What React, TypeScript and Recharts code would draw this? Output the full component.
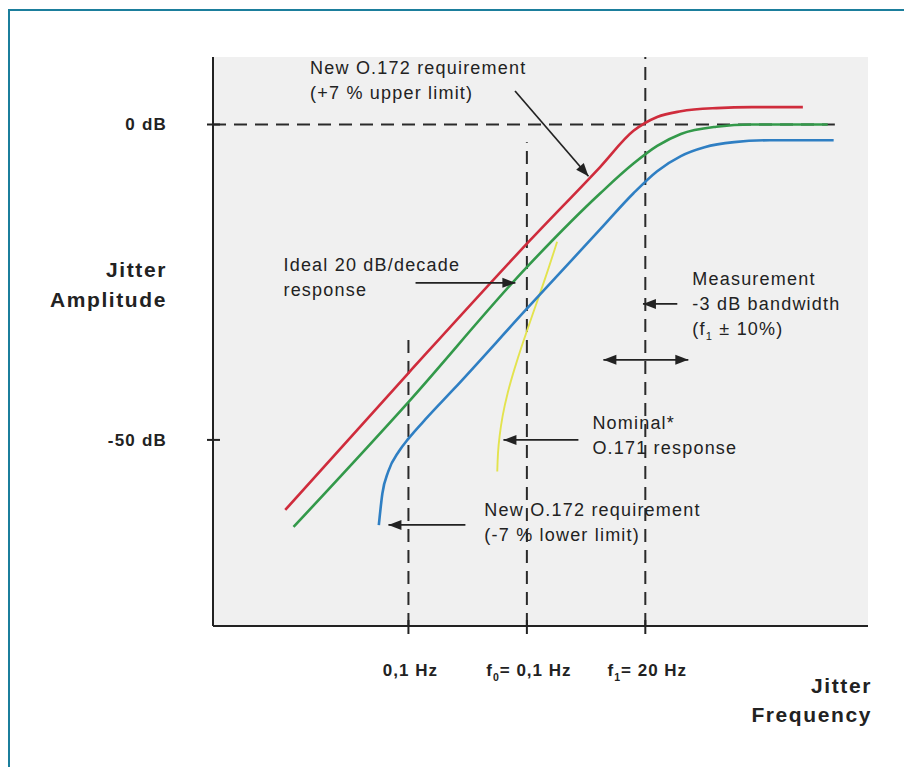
import React from 'react';
import {
  LineChart,
  Line,
  XAxis,
  YAxis,
  CartesianGrid,
  ReferenceLine,
  ReferenceDot,
  Label,
} from 'recharts';

// x = log10(f / f1) in decades (f1 = 20 Hz sits at 0), y = jitter amplitude in dB
const upperLimit = [
  { x: -3.04, y: -61.1 },
  { x: -2.0, y: -39.4 },
  { x: -0.97, y: -18.3 },
  { x: -0.38, y: -6.7 },
  { x: -0.1, y: -1.0 },
  { x: 0.1, y: 1.2 },
  { x: 0.3, y: 2.1 },
  { x: 0.6, y: 2.6 },
  { x: 0.9, y: 2.75 },
  { x: 1.33, y: 2.75 },
];

const idealResponse = [
  { x: -2.97, y: -63.8 },
  { x: -2.0, y: -44.0 },
  { x: -1.0, y: -22.6 },
  { x: -0.38, y: -10.9 },
  { x: -0.1, y: -6.2 },
  { x: 0.1, y: -3.4 },
  { x: 0.3, y: -1.5 },
  { x: 0.6, y: -0.35 },
  { x: 0.9, y: 0 },
  { x: 1.54, y: 0 },
];

const lowerLimit = [
  { x: -2.25, y: -63.5 },
  { x: -2.22, y: -58.5 },
  { x: -2.17, y: -55.0 },
  { x: -2.08, y: -51.8 },
  { x: -2.0, y: -49.8 },
  { x: -1.84, y: -46.4 },
  { x: -1.62, y: -42.0 },
  { x: -1.0, y: -29.2 },
  { x: -0.38, y: -16.6 },
  { x: -0.1, y: -10.9 },
  { x: 0.1, y: -7.4 },
  { x: 0.3, y: -5.0 },
  { x: 0.5, y: -3.6 },
  { x: 0.75, y: -2.8 },
  { x: 1.05, y: -2.5 },
  { x: 1.59, y: -2.5 },
];

const o171Response = [
  { x: -1.25, y: -55.0 },
  { x: -1.245, y: -52.0 },
  { x: -1.232, y: -49.5 },
  { x: -1.207, y: -46.2 },
  { x: -1.165, y: -42.6 },
  { x: -1.105, y: -38.7 },
  { x: -1.038, y: -34.8 },
  { x: -0.954, y: -30.2 },
  { x: -0.844, y: -24.4 },
  { x: -0.745, y: -18.6 },
];

const xDomain = [-3.65, 1.88];
const yDomain = [-79.5, 10.7];

const xTicks = [-2, -1, 0];
const xTickLabels = ['0,1 Hz', 'f_0= 0,1 Hz', 'f_1= 20 Hz'];
const yTicks = [0, -50];
const yTickLabels = ['0 dB', '-50 dB'];

// vertical dashed markers: frequency and the dB level where each dash starts
const markerX = [-2, -1, 0];
const markerTopDb = [-33.7, -2.8, 10.7];
const zeroDbLineEnd = 1.6;

const notes = [
  { x: -2.83, y: 8.95, lines: ['New O.172 requirement', '(+7 % upper limit)'] },
  { x: -3.055, y: -22.3, lines: ['Ideal 20 dB/decade', 'response'] },
  { x: 0.397, y: -24.5, lines: ['Measurement', '-3 dB bandwidth', '(f_1 ± 10%)'] },
  { x: -0.447, y: -47.3, lines: ['Nominal*', 'O.171 response'] },
  { x: -1.359, y: -61.1, lines: ['New O.172 requirement', '(-7 % lower limit)'] },
];

const arrows = [
  { x1: -1.1, y1: 5.3, x2: -0.48, y2: -8.2, both: false },
  { x1: -1.94, y1: -25.1, x2: -1.097, y2: -25.1, both: false },
  { x1: 0.27, y1: -28.45, x2: -0.02, y2: -28.45, both: false },
  { x1: -0.354, y1: -37.3, x2: 0.363, y2: -37.3, both: true },
  { x1: -0.565, y1: -50.0, x2: -1.198, y2: -50.0, both: false },
  { x1: -1.519, y1: -63.47, x2: -2.169, y2: -63.47, both: false },
];

const FONT = '"Liberation Sans", Arial, Helvetica, sans-serif';
const INK = '#222';
const DASH = '13 8';

function Rich({ s }: { s: string }) {
  const parts = s.split(/_(\d)/);
  return (
    <>
      {parts.map((p, i) =>
        i % 2 === 1 ? (
          <tspan key={i} dy={5} fontSize="0.62em">
            {p}
          </tspan>
        ) : (
          <tspan key={i} dy={i > 0 ? -5 : 0}>
            {p}
          </tspan>
        )
      )}
    </>
  );
}

const YTick = (props: any) => {
  const { x, y, payload } = props;
  const idx = yTicks.indexOf(payload.value);
  return (
    <g>
      <line x1={x + 40} x2={x + 53} y1={y} y2={y} stroke={INK} strokeWidth={2} />
      <text
        x={x}
        y={y}
        dy={6}
        textAnchor="end"
        fontFamily={FONT}
        fontSize={17}
        fontWeight="bold"
        letterSpacing={1.2}
        fill={INK}
      >
        {yTickLabels[idx]}
      </text>
    </g>
  );
};

const XTick = (props: any) => {
  const { x, y, payload } = props;
  const idx = xTicks.indexOf(payload.value);
  return (
    <g>
      <line x1={x} x2={x} y1={y - 56} y2={y - 42} stroke={INK} strokeWidth={2} />
      <text
        x={x}
        y={y}
        dx={2}
        dy={15}
        textAnchor="middle"
        fontFamily={FONT}
        fontSize={17}
        fontWeight="bold"
        letterSpacing={1}
        fill={INK}
      >
        <Rich s={xTickLabels[idx]} />
      </text>
    </g>
  );
};

const YTitle = (props: any) => {
  const vb = props.viewBox || {};
  const tx = vb.x + vb.width - 46;
  const cy = vb.y + vb.height * 0.4;
  return (
    <text
      textAnchor="end"
      fontFamily={FONT}
      fontSize={21}
      fontWeight="bold"
      letterSpacing={1.6}
      fill={INK}
    >
      <tspan x={tx} y={cy - 15 + 7}>Jitter</tspan>
      <tspan x={tx} y={cy + 15 + 7}>Amplitude</tspan>
    </text>
  );
};

const XTitle = (props: any) => {
  const vb = props.viewBox || {};
  const tx = vb.x + vb.width + 4;
  return (
    <text
      textAnchor="end"
      fontFamily={FONT}
      fontSize={21}
      fontWeight="bold"
      letterSpacing={1.6}
      fill={INK}
    >
      <tspan x={tx} y={vb.y + 60 + 7}>Jitter</tspan>
      <tspan x={tx} y={vb.y + 89 + 7}>Frequency</tspan>
    </text>
  );
};

const noteShape = (lines: string[]) => (props: any) => {
  const { cx, cy } = props;
  return (
    <text fontFamily={FONT} fontSize={18} letterSpacing={1.2} fill={INK}>
      {lines.map((l, i) => (
        <tspan key={i} x={cx} y={cy + i * 25 + 6}>
          <Rich s={l} />
        </tspan>
      ))}
    </text>
  );
};

const head = (tx: number, ty: number, a: number) => {
  const L = 13;
  const W = 5;
  const bx = tx - L * Math.cos(a);
  const by = ty - L * Math.sin(a);
  return `${tx},${ty} ${bx + W * Math.sin(a)},${by - W * Math.cos(a)} ${bx - W * Math.sin(a)},${by + W * Math.cos(a)}`;
};

const arrowShape = (both: boolean) => (props: any) => {
  const { x1, y1, x2, y2 } = props;
  const a = Math.atan2(y2 - y1, x2 - x1);
  return (
    <g>
      <line x1={x1} y1={y1} x2={x2} y2={y2} stroke={INK} strokeWidth={1.7} />
      <polygon points={head(x2, y2, a)} fill={INK} />
      {both && <polygon points={head(x1, y1, a + Math.PI)} fill={INK} />}
    </g>
  );
};

export default function App() {
  return (
    <div
      style={{
        position: 'absolute',
        left: 0,
        top: 0,
        width: 904,
        height: 767,
        background: '#fff',
        overflow: 'hidden',
      }}
    >
      <div
        style={{
          position: 'absolute',
          left: 8,
          top: 9,
          width: 910,
          height: 770,
          borderTop: '2px solid #1b7e9c',
          borderLeft: '2px solid #1b7e9c',
        }}
      />
      <div style={{ position: 'absolute', left: 0, top: 0 }}>
        <LineChart
          width={904}
          height={767}
          margin={{ top: 57, right: 36, bottom: 81, left: 113 }}
        >
          <CartesianGrid horizontal={false} vertical={false} fill="#f0f0f0" />
          <XAxis
            dataKey="x"
            type="number"
            domain={xDomain}
            allowDataOverflow
            ticks={xTicks}
            interval={0}
            height={60}
            tickSize={0}
            tickMargin={50}
            tickLine={false}
            axisLine={{ stroke: INK, strokeWidth: 2 }}
            tick={XTick}
          >
            <Label content={XTitle} />
          </XAxis>
          <YAxis
            dataKey="y"
            type="number"
            domain={yDomain}
            allowDataOverflow
            ticks={yTicks}
            interval={0}
            width={100}
            tickSize={0}
            tickMargin={46}
            tickLine={false}
            axisLine={{ stroke: INK, strokeWidth: 2 }}
            tick={YTick}
          >
            <Label content={YTitle} />
          </YAxis>

          {markerX.map((mx, i) => (
            <ReferenceLine
              key={`m${i}`}
              segment={[
                { x: mx, y: yDomain[0] },
                { x: mx, y: markerTopDb[i] },
              ]}
              stroke="#2a2a2a"
              strokeWidth={2}
              strokeDasharray={DASH}
              ifOverflow="visible"
            />
          ))}
          <ReferenceLine
            segment={[
              { x: xDomain[0], y: 0 },
              { x: zeroDbLineEnd, y: 0 },
            ]}
            stroke="#2a2a2a"
            strokeWidth={2}
            strokeDasharray={DASH}
            ifOverflow="visible"
          />

          <Line
            data={o171Response}
            dataKey="y"
            type="basis"
            stroke="#e3e34e"
            strokeWidth={1.9}
            dot={false}
            isAnimationActive={false}
          />
          <Line
            data={lowerLimit}
            dataKey="y"
            type="monotone"
            stroke="#2f7fc3"
            strokeWidth={2.6}
            dot={false}
            isAnimationActive={false}
          />
          <Line
            data={idealResponse}
            dataKey="y"
            type="monotone"
            stroke="#33994a"
            strokeWidth={2.6}
            dot={false}
            isAnimationActive={false}
          />
          <Line
            data={upperLimit}
            dataKey="y"
            type="monotone"
            stroke="#cf2c3c"
            strokeWidth={2.6}
            dot={false}
            isAnimationActive={false}
          />

          {arrows.map((a, i) => (
            <ReferenceLine
              key={`a${i}`}
              segment={[
                { x: a.x1, y: a.y1 },
                { x: a.x2, y: a.y2 },
              ]}
              ifOverflow="visible"
              shape={arrowShape(a.both)}
            />
          ))}
          {notes.map((n, i) => (
            <ReferenceDot
              key={`n${i}`}
              x={n.x}
              y={n.y}
              r={0}
              ifOverflow="visible"
              shape={noteShape(n.lines)}
            />
          ))}
        </LineChart>
      </div>
    </div>
  );
}
